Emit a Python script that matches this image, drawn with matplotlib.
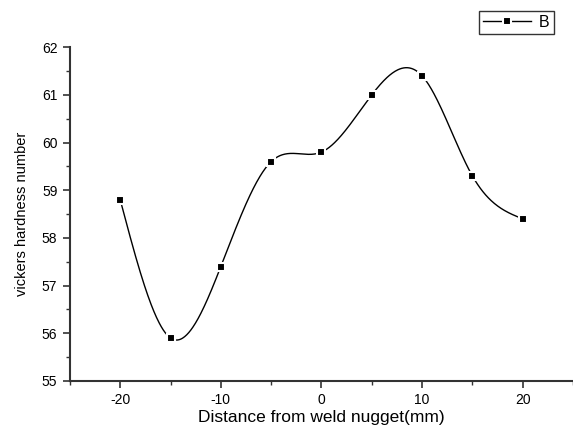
import numpy as np
import matplotlib
matplotlib.use('Agg')
import matplotlib.pyplot as plt
from matplotlib.ticker import MultipleLocator
from matplotlib.lines import Line2D

plt.rcParams['font.family'] = ['Liberation Sans', 'DejaVu Sans']
plt.rcParams['axes.unicode_minus'] = False

# distance from weld nugget (mm) and hardness
distance = [-20, -15, -10, -5, 0, 5, 10, 15, 20]
hardness = [58.8, 55.9, 57.4, 59.6, 59.8, 61.0, 61.4, 59.3, 58.4]


def natural_spline(x, y, xs):
    # plain natural cubic spline, to draw the smooth connecting line
    x = np.asarray(x, float)
    y = np.asarray(y, float)
    n = len(x)
    h = np.diff(x)
    A = np.zeros((n, n))
    r = np.zeros(n)
    A[0, 0] = A[-1, -1] = 1
    for i in range(1, n - 1):
        A[i, i - 1] = h[i - 1]
        A[i, i] = 2 * (h[i - 1] + h[i])
        A[i, i + 1] = h[i]
        r[i] = 3 * ((y[i + 1] - y[i]) / h[i] - (y[i] - y[i - 1]) / h[i - 1])
    c = np.linalg.solve(A, r)
    b = (y[1:] - y[:-1]) / h - h * (2 * c[:-1] + c[1:]) / 3
    d = (c[1:] - c[:-1]) / (3 * h)
    idx = np.clip(np.searchsorted(x, xs) - 1, 0, n - 2)
    t = xs - x[idx]
    return y[idx] + b[idx] * t + c[idx] * t ** 2 + d[idx] * t ** 3


def main():
    fig = plt.figure(figsize=(5.73, 4.29), dpi=100)
    ax = fig.add_axes([0.122, 0.112, 0.878, 0.778])

    xs = np.linspace(distance[0], distance[-1], 600)
    ax.plot(xs, natural_spline(distance, hardness, xs), color='black', linewidth=1.0)
    ax.plot(distance, hardness, linestyle='none', marker='s', markersize=6,
            markerfacecolor='black', markeredgecolor='white', markeredgewidth=1.5)

    ax.set_xlim(-25, 25)
    ax.set_ylim(55, 62)
    ax.xaxis.set_major_locator(MultipleLocator(10))
    ax.xaxis.set_minor_locator(MultipleLocator(5))
    ax.yaxis.set_major_locator(MultipleLocator(1))
    ax.yaxis.set_minor_locator(MultipleLocator(0.5))
    ax.spines['top'].set_visible(False)
    ax.spines['right'].set_visible(False)
    for s in ['left', 'bottom']:
        ax.spines[s].set_linewidth(1.5)
        ax.spines[s].set_color('#333333')
    ax.tick_params(which='major', direction='out', length=5, width=1.2,
                   labelsize=10, color='#333333', pad=4)
    ax.tick_params(which='minor', direction='out', length=3, width=1.0,
                   color='#333333')

    ax.set_xlabel('Distance from weld nugget(mm)', fontsize=12.5, labelpad=2)
    ax.set_ylabel('vickers hardness number', fontsize=10.5, labelpad=9)

    handle = Line2D([], [], color='black', linewidth=1.0, marker='s',
                    markersize=6, markerfacecolor='black', markeredgecolor='white',
                    markeredgewidth=1.5)
    fig.legend([handle], ['B'], loc='upper left', bbox_to_anchor=(0.836, 0.975),
               frameon=True, fancybox=False, edgecolor='black', fontsize=11.5,
               handlelength=3.0, handletextpad=0.5, borderpad=0.25,
               borderaxespad=0.0)

    plt.savefig('out.png', dpi=100)


if __name__ == "__main__":
    main()
